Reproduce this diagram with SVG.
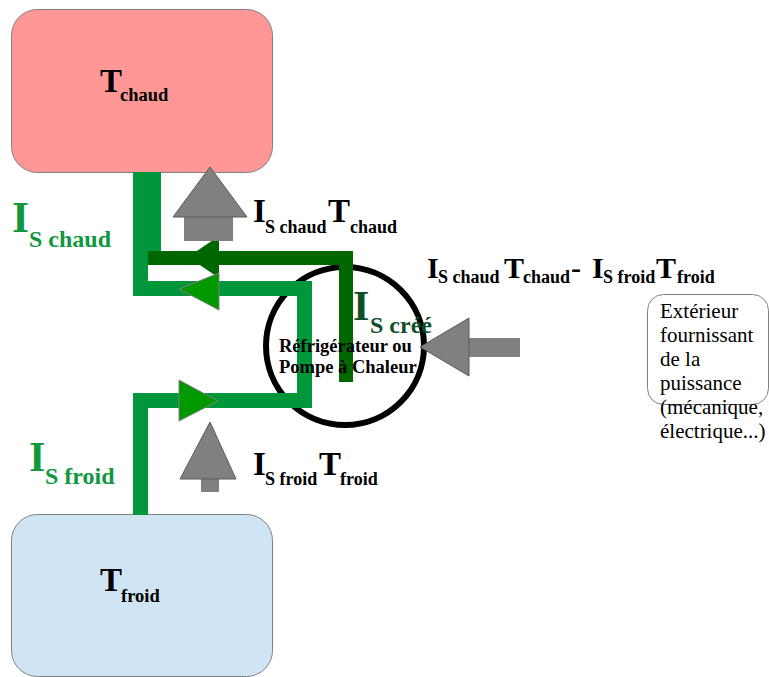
<svg xmlns="http://www.w3.org/2000/svg" width="769" height="677" viewBox="0 0 769 677">
  <style>
    .serif { font-family: "Liberation Serif", "Times New Roman", serif; }
    .b { font-weight: bold; }
    .blk { fill: #000000; }
    .grn { fill: #11983F; }
    .dgrn { fill: #0E4F2A; }
    .gray { fill: #808080; stroke: #5a5a5a; stroke-width: 1; }
    .shaft { fill: #808080; }
    .light { fill: none; stroke: #00963A; stroke-width: 15; stroke-linejoin: miter; }
    .dark { fill: none; stroke: #006600; stroke-width: 14; stroke-linejoin: miter; }
  </style>

  <!-- hot reservoir -->
  <g id="hot">
    <rect x="11.5" y="9.5" width="261" height="163" rx="26" fill="#FF9797" stroke="#808080" stroke-width="1"/>
    <text class="serif b blk" x="100" y="92" font-size="33">T</text>
    <text class="serif b blk" x="120" y="101" font-size="18.5">chaud</text>
  </g>

  <!-- cold reservoir -->
  <g id="cold">
    <rect x="11.5" y="514.5" width="261" height="162" rx="26" fill="#CFE5F3" stroke="#808080" stroke-width="1"/>
    <text class="serif b blk" x="100" y="591" font-size="33">T</text>
    <text class="serif b blk" x="121" y="602" font-size="18.5">froid</text>
  </g>

  <!-- machine -->
  <g id="machine">
    <circle cx="345" cy="346" r="79" fill="none" stroke="#000000" stroke-width="6"/>
  </g>

  <!-- entropy flows -->
  <g id="connectors">
    <rect x="133" y="172" width="28" height="80" fill="#00963A"/>
    <polyline class="light" points="140.5,515 140.5,400.5 304.5,400.5 304.5,288.5 140.5,288.5 140.5,250"/>
    <polyline class="dark" points="148,258 346,258 346,382"/>
    <polygon points="188,257 219,236 219,278" fill="#006600"/>
    <polygon points="179,289 219,273 219,310" fill="#009900" stroke="#808080" stroke-width="1"/>
    <polygon points="179,380 179,421 218,401" fill="#009900" stroke="#808080" stroke-width="1"/>

    <!-- heat flow arrows -->
    <rect class="shaft" x="184" y="216" width="49" height="25"/>
    <polygon class="gray" points="210,167 173,217 247,217"/>
    <rect class="shaft" x="201" y="478" width="18" height="14"/>
    <polygon class="gray" points="210,422 180,479 236,479"/>
    <rect class="shaft" x="468" y="338" width="52" height="19"/>
    <polygon class="gray" points="420,347 469,318 469,376"/>
  </g>

  <!-- labels -->
  <g id="label-is-chaud">
    <text class="serif b grn" x="12" y="232" font-size="44">I</text>
    <text class="serif b grn" x="29" y="247" font-size="24">S chaud</text>
  </g>
  <g id="label-is-froid">
    <text class="serif b grn" x="29" y="471" font-size="42">I</text>
    <text class="serif b grn" x="45" y="484" font-size="24">S froid</text>
  </g>
  <g id="label-is-cree">
    <text class="serif b dgrn" x="353" y="320" font-size="42">I</text>
    <text class="serif b dgrn" x="370" y="333" font-size="24">S créé</text>
  </g>
  <g id="label-machine">
    <text class="serif b blk" x="279" y="352" font-size="18.5">Réfrigérateur ou</text>
    <text class="serif b blk" x="279" y="373" font-size="18.5">Pompe à Chaleur</text>
  </g>
  <g id="label-q-chaud">
    <text class="serif b blk" x="253" y="222" font-size="33">I</text>
    <text class="serif b blk" x="265" y="233" font-size="18">S chaud</text>
    <text class="serif b blk" x="328" y="222" font-size="33">T</text>
    <text class="serif b blk" x="350" y="233" font-size="18">chaud</text>
  </g>
  <g id="label-q-froid">
    <text class="serif b blk" x="253" y="475" font-size="33">I</text>
    <text class="serif b blk" x="265" y="485" font-size="18">S froid</text>
    <text class="serif b blk" x="319" y="475" font-size="33">T</text>
    <text class="serif b blk" x="340" y="485" font-size="18">froid</text>
  </g>
  <g id="label-work">
    <text class="serif b blk" x="427" y="278" font-size="30">I</text>
    <text class="serif b blk" x="438" y="283" font-size="18">S chaud</text>
    <text class="serif b blk" x="504" y="278" font-size="30">T</text>
    <text class="serif b blk" x="523" y="283" font-size="18">chaud</text>
    <text class="serif b blk" x="571" y="278" font-size="30">-</text>
    <text class="serif b blk" x="592" y="278" font-size="30">I</text>
    <text class="serif b blk" x="603" y="283" font-size="18">S froid</text>
    <text class="serif b blk" x="656" y="278" font-size="30">T</text>
    <text class="serif b blk" x="677" y="283" font-size="18">froid</text>
  </g>

  <!-- external power source -->
  <g id="exterior">
    <rect x="647.5" y="294.5" width="121" height="110" rx="16" fill="#ffffff" stroke="#808080" stroke-width="1"/>
    <text class="serif blk" font-size="21">
      <tspan x="660" y="318">Extérieur</tspan>
      <tspan x="660" y="342">fournissant</tspan>
      <tspan x="660" y="366">de la</tspan>
      <tspan x="660" y="390">puissance</tspan>
      <tspan x="660" y="414">(mécanique,</tspan>
      <tspan x="660" y="438">électrique...)</tspan>
    </text>
  </g>
</svg>
